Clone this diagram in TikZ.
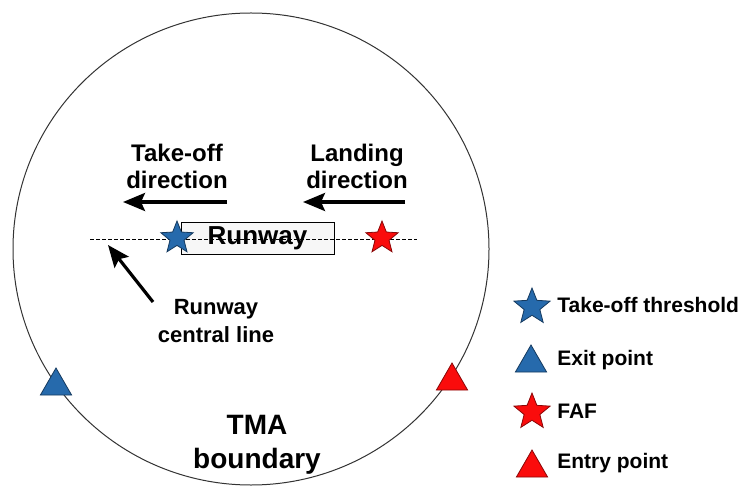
\documentclass[tikz,border=0pt]{standalone}
\usepackage{fontspec}
\setmainfont{Liberation Sans}
\usepackage{xcolor}
\usetikzlibrary{arrows.meta,positioning,shapes.geometric}
\definecolor{ptblue}{RGB}{38,106,172}
\definecolor{ptred}{RGB}{250,12,12}

\begin{document}
\begin{tikzpicture}[
  x=0.5pt, y=-0.5pt,
  >={Stealth[length=11pt, width=9pt, inset=2pt]},
  lbl/.style={align=center, font=\fontsize{12}{13.5}\selectfont\bfseries, inner sep=0pt},
  leg/.style={anchor=west, font=\fontsize{10.5}{12}\selectfont\bfseries, inner sep=0pt},
  pstar/.style={star, star points=5, star point ratio=2.3, minimum size=17pt,
                inner sep=0pt, draw=#1!55!black, fill=#1, line width=0.4pt},
  ptri/.style={regular polygon, regular polygon sides=3, minimum size=18pt,
               inner sep=0pt, draw=#1!55!black, fill=#1, line width=0.4pt},
  dir/.style={->, line width=1.6pt}
]
\useasboundingbox (0,0) rectangle (749,486);

% ---------- TMA boundary ----------
\draw[line width=0.5pt, black!80] (251,249) ellipse [x radius=119pt, y radius=118pt];
\node[align=center, font=\fontsize{14}{17}\selectfont\bfseries, inner sep=0pt] (tma) at (257,445) {TMA\\boundary};

% ---------- runway ----------
\node[draw, fill=black!3, minimum width=76.5pt, minimum height=16pt, inner sep=0pt,
      font=\fontsize{13}{15}\selectfont\bfseries] (rwy) at (257.5,238) {Runway};
\coordinate (cl-w) at (90,239);
\coordinate (cl-e) at (417,239);
\draw[dashed, dash pattern=on 2pt off 1pt, line width=0.4pt] (cl-w) -- (cl-e);
\node[pstar=ptblue] (thr) at (177,238) {};
\node[pstar=ptred]  (faf) at (382,238) {};

% ---------- directions ----------
\node[lbl] (tod) at (177,166) {Take-off\\direction};
\node[lbl] (lnd) at (357,166) {Landing\\direction};
\coordinate (tod-s) at (227,202);
\coordinate (tod-e) at (123,202);
\coordinate (lnd-s) at (405,202);
\coordinate (lnd-e) at (303,202);
\draw[dir] (tod-s) -- (tod-e);
\draw[dir] (lnd-s) -- (lnd-e);

\node[align=center, font=\fontsize{11}{14}\selectfont\bfseries, inner sep=0pt] (cln) at (216,321) {Runway\\central line};
\coordinate (cln-s) at (153,302);
\coordinate (cln-e) at (108,245);
\draw[dir] (cln-s) -- (cln-e);

% ---------- exit / entry points ----------
\node[ptri=ptblue] (exit)  at (56,386) {};
\node[ptri=ptred]  (entry) at (452,381) {};

% ---------- legend ----------
\node[pstar=ptblue, minimum size=19pt] (k1) at (532,307) {};
\node[ptri=ptblue]                     (k2) at (531,363) {};
\node[pstar=ptred, minimum size=19pt]  (k3) at (532,412) {};
\node[ptri=ptred]                      (k4) at (532,468) {};
\node[leg] (t1) at (557,305) {Take-off threshold};
\node[leg] (t2) at (557,360) {Exit point};
\node[leg] (t3) at (557,411) {FAF};
\node[leg] (t4) at (557,463) {Entry point};

\end{tikzpicture}
\end{document}
